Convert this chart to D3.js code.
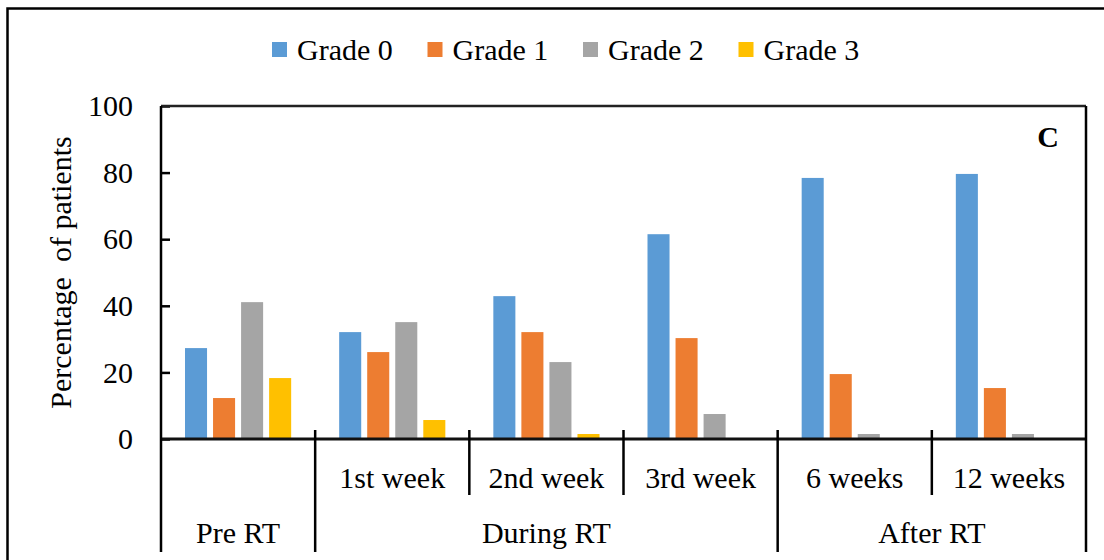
<!DOCTYPE html>
<html>
<head>
<meta charset="utf-8">
<script src="https://cdn.jsdelivr.net/npm/d3@7"></script>
<style>
  body { margin: 0; background: #fff; }
  svg text { font-family: "Liberation Serif", "Times New Roman", serif; fill: #000; }
</style>
</head>
<body>
<svg width="1104" height="560"></svg>
<script>
// 数据
var weeks = ["", "1st week", "2nd week", "3rd week", "6 weeks", "12 weeks"];
var phases = ["Pre RT", "During RT", "After RT"];
var phaseSpan = [1, 3, 2];     // 每个阶段包含几个类别
var grades = ["Grade 0", "Grade 1", "Grade 2", "Grade 3"];
var grade0 = [27.3, 32.1, 42.9, 61.5, 78.4, 79.6];
var grade1 = [12.3, 26.1, 32.1, 30.3, 19.5, 15.3];
var grade2 = [41.1, 35.1, 23.1, 7.5, 1.5, 1.5];
var grade3 = [18.3, 5.7, 1.5, 0, 0, 0];
var yTicks = [0, 20, 40, 60, 80, 100];
var colors = ["#5B9BD5", "#ED7D31", "#A5A5A5", "#FFC000"];

var series = [grade0, grade1, grade2, grade3];
var serif = "'Liberation Serif', 'Times New Roman', serif";

var svg = d3.select("svg");
var pLeft = 161, pRight = 1086, pTop = 106, pBottom = 439, pFloor = 552;

// 外框
svg.append("rect")
    .attr("x", 7.5).attr("y", 8.5)
    .attr("width", 1200).attr("height", 700)
    .attr("fill", "none").attr("stroke", "#000").attr("stroke-width", 2.5);

var idx = d3.range(weeks.length);
var x = d3.scaleBand().domain(idx).range([pLeft, pRight]).padding(0);
var xg = d3.scaleBand().domain(d3.range(grades.length))
    .range([24, x.bandwidth() - 24]).paddingInner(0.214);
var y = d3.scaleLinear().domain([0, 100]).range([pBottom, pTop]);

// 柱子
var rows = [];
series.forEach(function(s, g) {
    s.forEach(function(v, i) { rows.push({g: g, i: i, v: v}); });
});
svg.append("g").selectAll("rect")
    .data(rows.filter(function(d) { return d.v > 0; }))
    .enter().append("rect")
    .attr("x", function(d) { return x(d.i) + xg(d.g); })
    .attr("width", xg.bandwidth())
    .attr("y", function(d) { return y(d.v); })
    .attr("height", function(d) { return pBottom - y(d.v); })
    .attr("fill", function(d) { return colors[d.g]; });

// y轴
var yAxis = svg.append("g")
    .attr("transform", "translate(" + pLeft + ",0)")
    .call(d3.axisLeft(y).tickValues(yTicks).tickSizeInner(-9).tickSizeOuter(0).tickPadding(28));
yAxis.select(".domain").remove();
yAxis.selectAll("line").attr("stroke", "#000").attr("stroke-width", 2.5);
yAxis.selectAll("text").attr("font-size", 30).attr("font-family", serif);

// 边框线
svg.append("line").attr("x1", pLeft).attr("x2", pRight).attr("y1", pTop).attr("y2", pTop)
    .attr("stroke", "#222").attr("stroke-width", 2.5);
svg.append("line").attr("x1", pLeft).attr("x2", pRight).attr("y1", pBottom).attr("y2", pBottom)
    .attr("stroke", "#111").attr("stroke-width", 3);

// 类别分隔线
var phaseEnds = [];
var acc = 0;
phaseSpan.forEach(function(n) { acc += n; phaseEnds.push(acc); });
var seps = d3.range(weeks.length + 1);
svg.append("g").selectAll("line")
    .data(seps)
    .enter().append("line")
    .attr("x1", function(d) { return d < weeks.length ? x(d) : pRight; })
    .attr("x2", function(d) { return d < weeks.length ? x(d) : pRight; })
    .attr("y1", function(d) { return (d === 0 || d === weeks.length) ? pTop : pBottom - 9; })
    .attr("y2", function(d) { return (d === 0 || phaseEnds.indexOf(d) >= 0) ? pFloor : pBottom + 56; })
    .attr("stroke", "#000").attr("stroke-width", 2.5);

// 周标签
var xAxis = svg.append("g")
    .attr("transform", "translate(0," + pBottom + ")")
    .call(d3.axisBottom(x).tickSize(0).tickPadding(28).tickFormat(function(d) { return weeks[d]; }));
xAxis.select(".domain").remove();
xAxis.selectAll("text").attr("font-size", 30).attr("font-family", serif);

// 阶段标签
var start = 0;
phases.forEach(function(p, k) {
    var end = start + phaseSpan[k];
    var x0 = x(start), x1 = end < weeks.length ? x(end) : pRight;
    svg.append("text")
        .attr("x", (x0 + x1) / 2).attr("y", 543)
        .attr("text-anchor", "middle")
        .attr("font-size", 30).attr("font-family", serif)
        .text(p);
    start = end;
});

// y轴标题
svg.append("text")
    .attr("transform", "translate(71," + ((pTop + pBottom) / 2) + ") rotate(-90)")
    .attr("text-anchor", "middle")
    .attr("font-size", 30).attr("font-family", serif)
    .style("white-space", "pre")
    .text("Percentage  of patients");

// 图标 C
svg.append("text")
    .attr("x", 1059).attr("y", 147)
    .attr("text-anchor", "end")
    .attr("font-size", 30).attr("font-family", serif).attr("font-weight", "bold")
    .text("C");

// 图例
var legend = svg.append("g").selectAll("g")
    .data(grades)
    .enter().append("g")
    .attr("transform", function(d, i) { return "translate(" + (272 + i * 155.5) + ",0)"; });
legend.append("rect")
    .attr("x", 0).attr("y", 42).attr("width", 15).attr("height", 15)
    .attr("fill", function(d, i) { return colors[i]; });
legend.append("text")
    .attr("x", 25).attr("y", 60)
    .attr("font-size", 30).attr("font-family", serif)
    .text(function(d) { return d; });
</script>
</body>
</html>
